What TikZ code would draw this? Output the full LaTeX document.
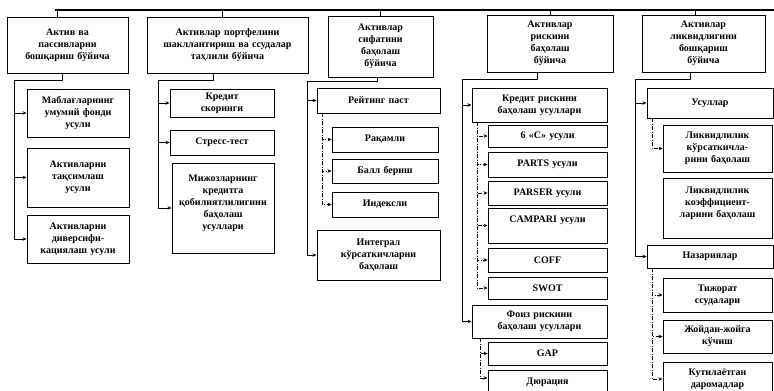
\documentclass[tikz,border=0pt]{standalone}
\usepackage{fontspec}
\setmainfont{Liberation Serif}
\usetikzlibrary{arrows.meta}

\tikzset{
  box/.style={draw=black, line width=0.9pt, inner sep=0pt, align=center,
    font=\bfseries\fontsize{10}{12}\selectfont},
  link/.style={line width=0.9pt},
  sublink/.style={line width=0.8pt, dash pattern=on 4pt off 1.5pt on 1pt off 1.5pt},
  arr/.style={-{Stealth[length=4pt,width=3.5pt]}},
  bus/.style={line width=2.6pt}
}

% box with corners (x1,y1) and (x2,y2), y measured downwards
\newcommand\mybox[6]{%
  \pgfmathsetmacro\bw{#4-#2}%
  \pgfmathsetmacro\bh{#5-#3}%
  \pgfmathsetmacro\tw{#4-#2-4}%
  \node[box, minimum width=\bw pt, minimum height=\bh pt, text width=\tw pt]
    (#1) at ({(#2+#4)/2},{(#3+#5)/2}) {#6};}

\begin{document}
\begin{tikzpicture}[x=1pt, y=-1pt]
\useasboundingbox[fill=white] (0,0) rectangle (774,391);

% top-level boxes
\mybox{t1}{7}{17}{128}{73}{Актив ва\\пассивларни\\бошқариш бўйича}
\mybox{t2}{147}{17}{308}{73}{Активлар портфелини\\шакллантириш ва ссудалар\\таҳлили бўйича}
\mybox{t3}{328}{16}{433}{77}{Активлар\\сифатини\\баҳолаш\\бўйича}
\mybox{t4}{487}{15}{613}{72}{Активлар\\рискини\\баҳолаш\\бўйича}
\mybox{t5}{642}{15}{765}{72}{Активлар\\ликвидлигини\\бошқариш\\бўйича}

% column 1
\mybox{a1}{27}{89}{129}{137}{Маблағларнинг\\умумий фонди\\усули}
\mybox{a2}{27}{148}{129}{207}{Активларни\\тақсимлаш\\усули}
\mybox{a3}{27}{215}{129}{263}{Активларни\\диверсифи-\\кациялаш усули}

% column 2
\mybox{b1}{170}{89}{274}{117}{Кредит\\скоринги}
\mybox{b2}{170}{130}{274}{155}{Стресс-тест}
\mybox{b3}{172}{163}{274}{253}{Мижозларнинг\\кредитга\\қобилиятлилигини\\баҳолаш\\усуллари\\ \mbox{}}

% column 3
\mybox{c1}{317}{88}{440}{113}{Рейтинг паст}
\mybox{c2}{332}{127}{438}{152}{Рақамли}
\mybox{c3}{332}{159}{438}{183}{Балл бериш}
\mybox{c4}{332}{192}{438}{217}{Индексли}
\mybox{c5}{317}{230}{440}{280}{Интеграл\\кўрсаткичларни\\баҳолаш}

% column 4
\mybox{d1}{472}{88}{607}{122}{Кредит рискини\\баҳолаш усуллари}
\mybox{d2}{488}{125}{607}{147}{6 «С» усули}
\mybox{d3}{488}{152}{607}{177}{PARTS усули}
\mybox{d4}{488}{181}{607}{205}{PARSER усули}
\mybox{d5}{488}{208}{607}{243}{CAMPARI усули\\ \mbox{}}
\mybox{d6}{488}{248}{607}{272}{COFF}
\mybox{d7}{488}{277}{607}{299}{SWOT}
\mybox{d8}{472}{305}{607}{338}{Фоиз рискини\\баҳолаш усуллари}
\mybox{d9}{488}{342}{607}{365}{GAP}
\mybox{d10}{488}{370}{607}{394}{Дюрация}

% column 5
\mybox{e1}{647}{88}{773}{118}{Усуллар}
\mybox{e2}{663}{125}{772}{172}{Ликвидлилик\\кўрсаткичла-\\рини баҳолаш}
\mybox{e3}{663}{178}{772}{238}{Ликвидлилик\\коэффициент-\\ларини баҳолаш\\ \mbox{}}
\mybox{e4}{647}{245}{773}{268}{Назариялар}
\mybox{e5}{663}{278}{772}{312}{Тижорат\\ссудалари}
\mybox{e6}{663}{320}{772}{353}{Жойдан-жойга\\кўчиш}
\mybox{e7}{663}{362}{772}{396}{Кутилаётган\\даромадлар}

% top bus and drops to the column heads
\coordinate (busL) at (55,10);
\coordinate (busR) at (774,10);
\draw[bus] (busL) -- (busR);
\coordinate (g1) at (57,10);
\coordinate (g2) at (222,10);
\coordinate (g3) at (380,10);
\coordinate (g4) at (550,10);
\coordinate (g5) at (695,10);
\foreach \g/\t in {g1/t1,g2/t2,g3/t3,g4/t4,g5/t5}
  \draw[link] (\g) -- (\g |- \t.north);

% column spines
\coordinate (k1) at (62,80);  \coordinate (s1) at (14,80);
\coordinate (k2) at (213,80); \coordinate (s2) at (158,80);
\coordinate (k3) at (377,81); \coordinate (s3) at (307,81);
\coordinate (k4) at (537,79); \coordinate (s4) at (462,79);
\coordinate (k5) at (690,79); \coordinate (s5) at (635,79);

\draw[link] (t1.south -| k1) -- (k1) -- (s1);
\draw[link] (t2.south -| k2) -- (k2) -- (s2);
\draw[link] (t3.south -| k3) -- (k3) -- (s3);
\draw[link] (t4.south -| k4) -- (k4) -- (s4);
\draw[link] (t5.south -| k5) -- (k5) -- (s5);

\foreach \n in {a1,a2,a3} \draw[link,arr] (s1) |- (\n);
\foreach \n in {b1,b2,b3} \draw[link,arr] (s2) |- (\n);
\foreach \n in {c1,c5} \draw[link,arr] (s3) |- (\n);
\foreach \n in {d1,d8} \draw[link,arr] (s4) |- (\n);
\foreach \n in {e1,e4} \draw[link,arr] (s5) |- (\n);

% second-level branches
\coordinate (u3) at (322,113);
\foreach \n in {c2,c3,c4} \draw[sublink,arr] (u3) |- (\n);

\coordinate (u4) at (477,122);
\foreach \n in {d2,d3,d4,d5,d6,d7} \draw[sublink,arr] (u4) |- (\n);

\coordinate (v4) at (480,338);
\draw[sublink,arr] (v4) |- (d9);
\draw[sublink,arr] (v4) |- ([yshift=4pt]d10.west);

\coordinate (u5) at (652,118);
\draw[sublink,arr] (u5) |- (e2);

\coordinate (v5) at (652,268);
\foreach \n in {e5,e6,e7} \draw[sublink,arr] (v5) |- (\n);
\end{tikzpicture}
\end{document}
